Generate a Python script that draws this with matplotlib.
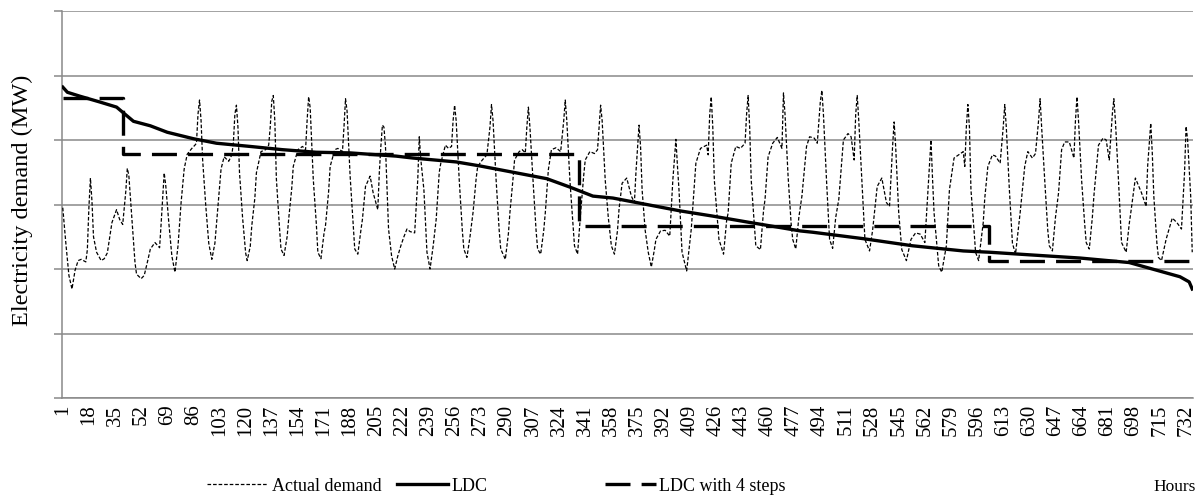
"""
plot.py

Hourly electricity demand for one month, its load duration curve (LDC)
and a 4-step approximation of the LDC.
"""

import matplotlib
matplotlib.use("Agg")
import matplotlib.pyplot as plt

plt.rcParams['font.family'] = ['Liberation Serif', 'DejaVu Serif']
plt.rcParams['lines.scale_dashes'] = False

# Actual demand (hour, MW in axis units)
demand_hours = [
    1, 3, 5, 7, 9, 11, 13, 16, 17, 18, 19, 20, 21, 23, 26, 28, 30, 33, 36, 38,
    40, 42, 43, 44, 46, 48, 49, 52, 54, 56, 58, 61, 64, 65, 67, 68, 70, 72, 74, 76,
    78, 80, 82, 85, 87, 88, 89, 90, 91, 92, 94, 96, 98, 100, 102, 104, 106, 109, 111, 112,
    113, 114, 115, 116, 118, 120, 121, 123, 124, 126, 127, 130, 133, 135, 136, 137, 138, 139, 140, 142,
    143, 145, 147, 148, 150, 151, 154, 157, 159, 160, 161, 162, 164, 166, 167, 169, 171, 172, 174, 175,
    178, 180, 183, 184, 185, 186, 188, 190, 191, 193, 195, 196, 198, 201, 203, 206, 207, 208, 209, 210,
    211, 213, 215, 217, 219, 221, 223, 225, 227, 230, 232, 233, 234, 236, 238, 240, 242, 244, 246, 247,
    250, 252, 254, 255, 256, 257, 259, 261, 262, 264, 266, 268, 270, 271, 274, 277, 279, 280, 281, 283,
    285, 286, 289, 291, 292, 294, 295, 298, 300, 302, 303, 304, 305, 307, 309, 310, 312, 314, 315, 317,
    319, 322, 325, 327, 328, 329, 331, 333, 334, 336, 338, 340, 341, 344, 347, 349, 350, 351, 352, 354,
    356, 358, 360, 362, 363, 365, 368, 371, 373, 374, 376, 377, 378, 380, 382, 384, 386, 387, 390, 393,
    396, 398, 400, 401, 402, 404, 407, 409, 410, 412, 413, 416, 420, 421, 422, 423, 424, 425, 428, 431,
    433, 434, 436, 439, 442, 445, 446, 447, 448, 449, 451, 452, 455, 457, 458, 460, 463, 466, 469, 470,
    471, 473, 475, 476, 478, 480, 482, 485, 487, 490, 492, 494, 495, 496, 498, 500, 502, 504, 506, 509,
    512, 514, 516, 517, 518, 519, 521, 523, 526, 528, 531, 534, 537, 539, 541, 542, 543, 545, 547, 550,
    553, 556, 559, 562, 564, 566, 567, 568, 571, 573, 576, 578, 581, 584, 587, 588, 589, 590, 591, 592,
    594, 595, 597, 600, 601, 603, 606, 608, 611, 613, 614, 615, 617, 619, 621, 624, 627, 629, 632, 634,
    636, 637, 638, 640, 642, 643, 645, 647, 649, 651, 653, 656, 659, 660, 661, 662, 664, 666, 667, 669,
    671, 672, 675, 678, 680, 682, 684, 685, 686, 688, 690, 693, 695, 696, 699, 703, 706, 707, 709, 710,
    711, 713, 714, 716, 719, 723, 726, 729, 731, 732, 733, 735, 736,
]
demand_values = [
    2.95, 2.40, 1.90, 1.69, 1.98, 2.13, 2.15, 2.11, 2.30, 2.95, 3.41, 3.05, 2.50, 2.26, 2.13, 2.16, 2.25, 2.72, 2.92, 2.77,
    2.69, 3.20, 3.56, 3.45, 2.77, 2.10, 1.92, 1.85, 1.90, 2.10, 2.31, 2.41, 2.33, 2.70, 3.49, 3.30, 2.72, 2.20, 1.95, 2.36,
    3.03, 3.55, 3.78, 3.87, 3.92, 3.95, 4.40, 4.62, 4.30, 3.70, 3.00, 2.40, 2.15, 2.40, 2.97, 3.55, 3.74, 3.67, 3.77, 3.95,
    4.40, 4.54, 4.20, 3.50, 2.80, 2.25, 2.13, 2.35, 2.67, 3.10, 3.49, 3.82, 3.85, 3.92, 4.20, 4.60, 4.69, 4.30, 3.40, 2.65,
    2.31, 2.21, 2.50, 2.77, 3.25, 3.59, 3.85, 3.90, 3.85, 4.30, 4.67, 4.50, 3.40, 2.70, 2.26, 2.16, 2.55, 2.68, 3.20, 3.59,
    3.85, 3.87, 3.82, 4.20, 4.64, 4.45, 3.44, 2.70, 2.31, 2.23, 2.60, 2.77, 3.28, 3.44, 3.18, 2.92, 3.50, 3.90, 4.23, 4.20,
    3.90, 2.62, 2.20, 2.00, 2.20, 2.36, 2.50, 2.62, 2.58, 2.56, 3.38, 4.05, 3.70, 3.23, 2.26, 2.00, 2.35, 2.77, 3.50, 3.64,
    3.92, 3.87, 3.90, 4.30, 4.54, 4.30, 3.38, 2.60, 2.31, 2.18, 2.50, 2.88, 3.40, 3.59, 3.69, 3.77, 4.20, 4.55, 4.30, 3.38,
    2.60, 2.31, 2.15, 2.55, 2.88, 3.40, 3.69, 3.82, 3.85, 3.80, 4.20, 4.51, 4.20, 3.38, 2.60, 2.31, 2.23, 2.60, 2.87, 3.54,
    3.85, 3.88, 3.82, 4.30, 4.62, 4.30, 3.38, 2.70, 2.36, 2.23, 2.87, 3.45, 3.69, 3.82, 3.79, 3.85, 4.20, 4.54, 4.30, 3.38,
    2.80, 2.36, 2.23, 2.60, 2.93, 3.33, 3.41, 3.13, 3.03, 3.50, 4.23, 3.90, 3.23, 2.60, 2.26, 2.03, 2.30, 2.46, 2.59, 2.60,
    2.51, 3.38, 4.01, 3.60, 3.23, 2.26, 1.97, 2.40, 2.62, 3.30, 3.64, 3.87, 3.92, 3.77, 4.40, 4.67, 4.20, 3.38, 2.46, 2.23,
    2.75, 2.87, 3.64, 3.90, 3.87, 3.95, 4.40, 4.69, 4.20, 3.38, 2.70, 2.36, 2.30, 2.90, 3.08, 3.74, 3.95, 4.04, 3.87, 4.73,
    4.40, 3.44, 2.70, 2.46, 2.31, 2.80, 3.13, 3.90, 4.05, 4.03, 3.95, 4.60, 4.77, 4.40, 3.38, 2.46, 2.32, 2.80, 3.08, 4.00,
    4.10, 4.05, 3.69, 4.40, 4.69, 4.30, 3.38, 2.46, 2.28, 2.60, 3.28, 3.41, 3.03, 2.97, 3.90, 4.28, 3.90, 2.87, 2.30, 2.13,
    2.46, 2.56, 2.54, 2.41, 3.20, 4.00, 3.40, 2.87, 2.05, 1.95, 2.36, 3.23, 3.72, 3.77, 3.82, 3.59, 4.20, 4.55, 4.20, 3.23,
    2.60, 2.26, 2.13, 2.72, 3.10, 3.59, 3.77, 3.75, 3.64, 4.20, 4.55, 4.20, 3.23, 2.40, 2.23, 2.87, 3.59, 3.82, 3.72, 3.79,
    4.30, 4.64, 4.20, 3.38, 2.60, 2.36, 2.28, 2.80, 3.18, 3.85, 3.97, 3.97, 3.72, 4.30, 4.67, 4.30, 3.38, 2.70, 2.41, 2.31,
    2.80, 3.13, 3.92, 4.03, 4.00, 3.69, 4.40, 4.64, 4.30, 3.38, 2.41, 2.26, 2.70, 2.87, 3.41, 3.18, 2.97, 3.60, 4.26, 3.80,
    3.13, 2.40, 2.18, 2.13, 2.46, 2.79, 2.72, 2.62, 3.50, 4.21, 4.00, 3.13, 2.26,
]

# Load duration curve (sorted demand)
ldc_hours = [1, 4, 12, 25, 36, 40, 47, 58, 69, 86, 101, 123, 144, 166, 188, 218, 229, 257,
             272, 294, 316, 331, 346, 359, 381, 403, 424, 446, 481, 489, 522, 554, 587, 604,
             630, 663, 695, 710, 728, 734, 736]
ldc_values = [4.82, 4.74, 4.68, 4.59, 4.51, 4.43, 4.29, 4.22, 4.12, 4.02, 3.95, 3.90, 3.85, 3.81,
              3.80, 3.75, 3.72, 3.66, 3.60, 3.50, 3.40, 3.27, 3.13, 3.10, 3.00, 2.90, 2.82, 2.73,
              2.59, 2.57, 2.47, 2.36, 2.28, 2.26, 2.22, 2.17, 2.10, 2.00, 1.88, 1.80, 1.69]

# LDC with 4 steps: step boundaries (hours) and levels
step_edges = [1, 40, 337, 604, 736]
step_levels = [4.65, 3.78, 2.67, 2.12]

tick_hours = list(range(1, 737, 17))
n_hours = 736

GRID_GRAY = '#898989'

fig = plt.figure(figsize=(11.97, 5.02), dpi=100)
ax = fig.add_axes([62 / 1197, 1 - 399 / 502, 1131 / 1197, 387 / 502])

line_actual, = ax.plot(demand_hours, demand_values, color='black', lw=0.9,
                       dashes=(2.6, 1.4), label='Actual demand', zorder=3)
line_ldc, = ax.plot(ldc_hours, ldc_values, color='black', lw=2.4,
                    label='LDC', zorder=4)
line_steps, = ax.plot(step_edges, step_levels + [step_levels[-1]], color='black',
                      lw=2.4, drawstyle='steps-post', dashes=(18, 8),
                      label='LDC with 4 steps', zorder=4)

ax.set_xlim(0.5, n_hours + 0.5)
ax.set_ylim(0, 6)
ax.set_yticks(range(0, 7))
ax.set_yticklabels([])
ax.grid(axis='y', color=GRID_GRAY, lw=1.1)
ax.set_axisbelow(True)
ax.tick_params(axis='y', length=5.5, width=1.1, color=GRID_GRAY, direction='out')

ax.set_xticks(tick_hours)
ax.set_xticklabels([str(h) for h in tick_hours], rotation=90, fontsize=15)
ax.tick_params(axis='x', length=0, pad=4)

for side in ['top', 'right']:
    ax.spines[side].set_visible(False)
for side in ['left', 'bottom']:
    ax.spines[side].set_color(GRID_GRAY)
    ax.spines[side].set_linewidth(1.1)

fig.text(22 / 1197, 1 - 200 / 502, 'Electricity demand (MW)', rotation=90,
         ha='center', va='center', fontsize=17.5)
fig.text(1196 / 1197, 1 - 487 / 502, 'Hours', ha='right', va='center', fontsize=12.5)

# legend entries placed one by one, like the original
legend_x = [207, 397, 605]
handle_len = [3.4, 2.8, 2.8]
for x, handle, hl in zip(legend_x, [line_actual, line_ldc, line_steps], handle_len):
    fig.legend(handles=[handle], loc='center left',
               bbox_to_anchor=(x / 1197, 1 - 487 / 502), frameon=False,
               fontsize=13, handlelength=hl, handletextpad=0.2,
               borderpad=0, borderaxespad=0)

fig.savefig('out.png', dpi=100)
